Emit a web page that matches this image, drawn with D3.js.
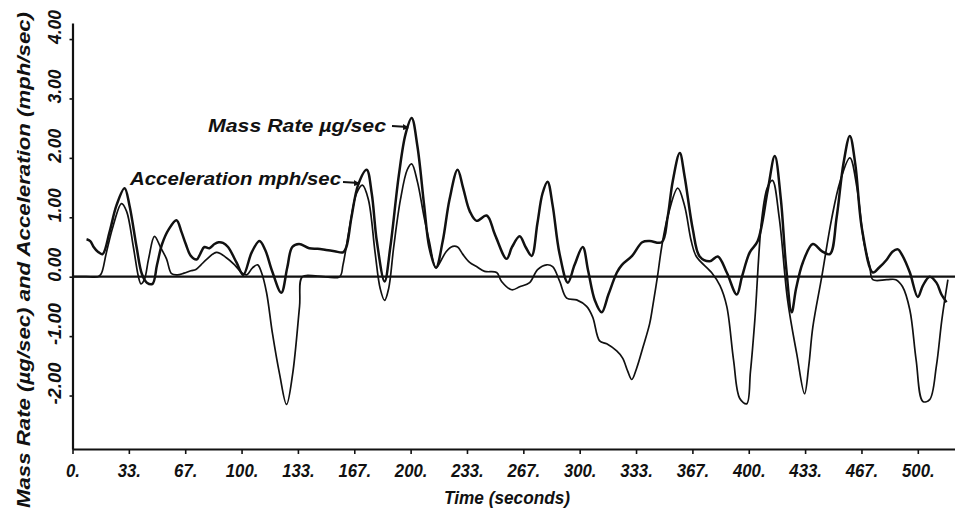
<!DOCTYPE html>
<html>
<head>
<meta charset="utf-8">
<script src="https://cdn.jsdelivr.net/npm/d3@7"></script>
<style>
  body { margin: 0; background: #fff; }
  svg { display: block; }
  text { font-family: "Liberation Sans", Arial, sans-serif; font-style: italic; font-weight: bold; fill: #111; }
</style>
</head>
<body>
<div id="chart"></div>
<script>
// time (s), value
const massRate = [
  [8.3,0.63],[10.5,0.6],[12.5,0.5],[15,0.42],[17.8,0.38],[21.9,0.75],[26,1.2],[30.8,1.49],[33.7,1.2],
  [37.9,0.5],[41,0.05],[44,-0.1],[47.3,-0.12],[50,0.2],[53,0.55],[57,0.8],[61.5,0.95],[64.5,0.75],
  [67,0.55],[70,0.35],[73.4,0.29],[75.5,0.38],[78,0.5],[81,0.48],[84,0.55],[86.5,0.58],[89,0.57],
  [92,0.5],[97,0.24],[101,0.03],[106,0.41],[110.6,0.6],[114,0.45],[118,0.1],[123.5,-0.27],[127,0.15],
  [130,0.5],[134,0.55],[140,0.48],[145,0.47],[150,0.45],[155,0.43],[160,0.41],[162,0.5],[165,1.0],
  [169,1.55],[174,1.8],[177,1.4],[180,0.6],[184.6,-0.08],[188,0.5],[193,1.7],[197,2.4],[200.6,2.67],
  [204,2.2],[208,1.2],[211,0.5],[215,0.15],[219,0.6],[223,1.3],[227.8,1.8],[231,1.5],[235,1.1],
  [239,0.94],[245,1.03],[250,0.7],[256.8,0.3],[260,0.5],[264.5,0.68],[268,0.5],[271.6,0.35],[275,0.9],
  [278,1.4],[281,1.6],[284,1.2],[288,0.4],[293,-0.1],[297,0.2],[301.8,0.5],[305,0.1],[309,-0.4],
  [313,-0.6],[317,-0.3],[322,0.07],[325,0.2],[331,0.35],[337,0.58],[341.4,0.6],[348.5,0.58],[352,1.0],
  [355,1.6],[359.2,2.08],[362,1.7],[366.9,0.8],[371,0.34],[376.9,0.26],[381.7,0.34],[387,0.07],
  [392.9,-0.3],[396,0.0],[400.6,0.41],[405.3,0.6],[411.2,1.45],[415.4,2.03],[419,1.3],[422,0.2],
  [425.4,-0.6],[428,-0.2],[432,0.24],[437.9,0.55],[443.2,0.43],[448,0.38],[452,1.0],[456,1.9],
  [459.8,2.37],[463,1.9],[467,0.8],[473.4,0.07],[477,0.15],[481.7,0.29],[485,0.42],[488.2,0.46],
  [491,0.35],[495.3,0.07],[500,-0.34],[503,-0.15],[507,0],[511,-0.1],[514,-0.3],[517,-0.43]
];

const acceleration = [
  [0,0],[8,0],[15,0],[17,0.05],[20,0.4],[24,0.85],[29,1.23],[32,1.1],[36,0.5],[39,0.0],[40.5,-0.12],
  [42.5,-0.05],[45,0.3],[48.5,0.68],[52,0.5],[55.6,0.3],[58.6,0.05],[62,0.03],[66,0.06],[70,0.1],
  [73,0.12],[76,0.2],[79.3,0.29],[85.2,0.41],[91,0.32],[95.9,0.2],[100,0.07],[103,0.03],[106.5,0.15],
  [109.5,0.2],[111.8,0.07],[114.8,-0.27],[118.3,-0.96],[122.5,-1.64],[126.6,-2.15],[130.2,-1.64],
  [134.3,-0.5],[136,0],[145,0.01],[158,0],[160,0.2],[164,0.85],[168,1.4],[171.5,1.54],[175,1.3],
  [179,0.4],[182,-0.2],[184.6,-0.4],[187,-0.2],[190,0.5],[194,1.3],[198,1.8],[200.6,1.9],[204,1.6],
  [208,1.0],[211,0.6],[215,0.15],[218.3,0.29],[221,0.42],[224.9,0.51],[227.8,0.5],[230.8,0.38],
  [234.9,0.24],[239,0.17],[243.8,0.09],[250.9,0.07],[253.8,-0.08],[259.8,-0.22],[264.5,-0.17],
  [270.4,-0.1],[275.1,0.12],[280.5,0.2],[284,0.17],[288.2,-0.08],[292.3,-0.36],[298.2,-0.39],
  [304.1,-0.5],[307.7,-0.68],[311.8,-1.08],[316,-1.13],[321.9,-1.25],[325.4,-1.37],[328.4,-1.59],
  [330.8,-1.73],[333.7,-1.54],[337.3,-1.2],[341.4,-0.79],[343.2,-0.5],[346,0.0],[348.5,0.5],[352,1.0],
  [358,1.49],[362,1.2],[366,0.6],[369,0.34],[378,0.07],[383,-0.15],[387,-0.5],[391,-1.4],[394.7,-2.05],
  [398.8,-2.14],[401,-1.6],[403.6,-0.73],[407.7,0.97],[411,1.5],[414,1.62],[418,1.0],[423,-0.4],
  [428.4,-1.3],[433,-1.97],[435.5,-1.5],[437.9,-0.85],[443.2,0],[449,0.97],[454,1.6],[459.8,2.0],
  [464,1.5],[468,0.6],[471.6,0.17],[473.4,-0.05],[481.7,-0.05],[487,-0.05],[491,-0.17],[495.3,-0.56],
  [499,-1.4],[503,-2.1],[507,-2.07],[511,-1.5],[514.2,-0.73],[517.8,-0.05]
];

const xTicks = [0, 33.33, 66.67, 100, 133.33, 166.67, 200, 233.33, 266.67, 300, 333.33, 366.67, 400, 433.33, 466.67, 500];
const xTickLabels = ["0.", "33.", "67.", "100.", "133.", "167.", "200.", "233.", "267.", "300.", "333.", "367.", "400.", "433.", "467.", "500."];
const yTicks = [-2, -1, 0, 1, 2, 3, 4];
const yTickLabels = ["-2.00", "-1.00", "0.00", "1.00", "2.00", "3.00", "4.00"];

const width = 955;
const height = 512;

const svg = d3.select('#chart')
  .append('svg')
  .attr('width', width)
  .attr('height', height);

const xScale = d3.scaleLinear()
  .domain([0, 522])
  .range([72.5, 955]);

const yScale = d3.scaleLinear()
  .domain([-2.9, 4.27])
  .range([449, 23]);

// axes
const xAxis = d3.axisBottom(xScale)
  .tickValues(xTicks)
  .tickFormat((d, i) => xTickLabels[i])
  .tickSize(5)
  .tickSizeOuter(0);

const gx = svg.append('g')
  .attr('transform', `translate(0, ${yScale.range()[0]})`)
  .call(xAxis);
gx.select('.domain').attr('stroke', '#111').attr('stroke-width', 2.2);
gx.selectAll('.tick line').attr('stroke', '#111').attr('stroke-width', 1.6);
gx.selectAll('.tick text')
  .attr('y', 28)
  .attr('dy', 0)
  .attr('font-size', 19)
  .each(function () {
    const w = this.getComputedTextLength();
    d3.select(this).attr('textLength', w * 0.88).attr('lengthAdjust', 'spacingAndGlyphs');
  });

const yAxis = d3.axisLeft(yScale)
  .tickValues(yTicks)
  .tickFormat('')
  .tickSize(3)
  .tickSizeOuter(0);

const gy = svg.append('g')
  .attr('transform', `translate(${xScale(0)}, 0)`)
  .call(yAxis);
gy.select('.domain').attr('stroke', '#111').attr('stroke-width', 2.2);
gy.selectAll('.tick line').attr('stroke', '#111').attr('stroke-width', 1.6);

// rotated y tick labels, sitting just above each tick
svg.append('g')
  .selectAll('text')
  .data(yTicks)
  .join('text')
  .attr('transform', d => `translate(61, ${yScale(d) - 12}) rotate(-90)`)
  .attr('text-anchor', 'middle')
  .attr('font-size', 19)
  .attr('textLength', (d, i) => yTickLabels[i].length > 4 ? 42 : 34)
  .attr('lengthAdjust', 'spacingAndGlyphs')
  .text((d, i) => yTickLabels[i]);

// axis titles
svg.append('text')
  .attr('transform', 'translate(30, 260) rotate(-90)')
  .attr('text-anchor', 'middle')
  .attr('font-size', 19)
  .attr('textLength', 496)
  .attr('lengthAdjust', 'spacingAndGlyphs')
  .text('Mass Rate (µg/sec) and Acceleration (mph/sec)');

svg.append('text')
  .attr('x', 507)
  .attr('y', 504)
  .attr('text-anchor', 'middle')
  .attr('font-size', 19)
  .attr('textLength', 126)
  .attr('lengthAdjust', 'spacingAndGlyphs')
  .text('Time (seconds)');

// zero line
svg.append('line')
  .attr('x1', xScale(0))
  .attr('x2', xScale(522))
  .attr('y1', yScale(0))
  .attr('y2', yScale(0))
  .attr('stroke', '#111')
  .attr('stroke-width', 2.2);

const line = d3.line()
  .x(d => xScale(d[0]))
  .y(d => yScale(d[1]))
  .curve(d3.curveCatmullRom.alpha(0.5));

svg.append('path')
  .datum(acceleration)
  .attr('d', line)
  .attr('fill', 'none')
  .attr('stroke', '#111')
  .attr('stroke-width', 1.7);

svg.append('path')
  .datum(massRate)
  .attr('d', line)
  .attr('fill', 'none')
  .attr('stroke', '#111')
  .attr('stroke-width', 2.5);

// labels with little arrows
function label(text, x, y, len, arrowFrom, arrowTo) {
  svg.append('text')
    .attr('x', x)
    .attr('y', y)
    .attr('font-size', 19)
    .attr('textLength', len)
    .attr('lengthAdjust', 'spacingAndGlyphs')
    .text(text);
  svg.append('line')
    .attr('x1', arrowFrom[0]).attr('y1', arrowFrom[1])
    .attr('x2', arrowTo[0]).attr('y2', arrowTo[1])
    .attr('stroke', '#111')
    .attr('stroke-width', 1.8);
  svg.append('path')
    .attr('d', `M${arrowTo[0] - 5},${arrowTo[1] - 3} L${arrowTo[0] + 1},${arrowTo[1] + 1} L${arrowTo[0] - 5},${arrowTo[1] + 3} Z`)
    .attr('fill', '#111');
}

label('Mass Rate µg/sec', 208, 132, 178, [392, 126], [xScale(198.5), 127]);
label('Acceleration mph/sec', 130, 185, 211, [343, 182], [xScale(169.5), 183]);
</script>
</body>
</html>
